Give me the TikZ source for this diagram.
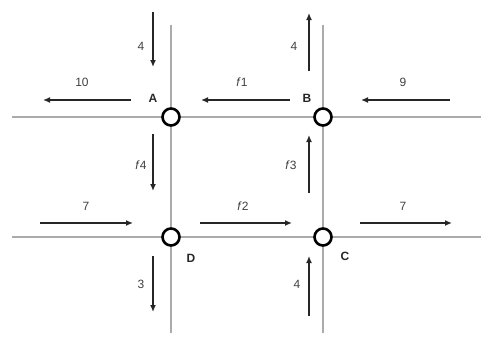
\documentclass[tikz,border=0pt]{standalone}
\usepackage{fontspec}
\setmainfont{Liberation Sans}
\usetikzlibrary{arrows.meta}
\begin{document}
\begin{tikzpicture}[x=1pt,y=-1pt,
  road/.style={draw=black!33,line width=1.8pt},
  flow/.style={draw=black!85,line width=2.2pt,-{Latex[length=7pt,width=6pt]}},
  junction/.style={circle,draw=black,fill=white,line width=2.6pt,minimum size=17pt,inner sep=0pt},
  lbl/.style={font=\fontsize{12}{13}\selectfont,text=black!75},
  jlabel/.style={font=\bfseries\fontsize{12}{13}\selectfont,text=black!85}]
\useasboundingbox (0,0) rectangle (481,341);
% roads
\draw[road] (12,117) -- (481,117);
\draw[road] (12,237) -- (481,237);
\draw[road] (171,25) -- (171,333);
\draw[road] (323,25) -- (323,333);
% junctions
\node[junction] (A) at (171,117) {};
\node[junction] (B) at (323,117) {};
\node[junction] (D) at (171,237) {};
\node[junction] (C) at (323,237) {};
\node[jlabel] (lA) at (153,98) {A};
\node[jlabel] (lB) at (307,98) {B};
\node[jlabel] (lD) at (191,258) {D};
\node[jlabel] (lC) at (345,256) {C};
% arrow end points
\coordinate (a1s) at (153,12);  \coordinate (a1e) at (153,67);
\coordinate (a2s) at (131,100); \coordinate (a2e) at (43,100);
\coordinate (a3s) at (290,100); \coordinate (a3e) at (201,100);
\coordinate (a4s) at (309,71);  \coordinate (a4e) at (309,13);
\coordinate (a5s) at (450,100); \coordinate (a5e) at (361,100);
\coordinate (a6s) at (153,134); \coordinate (a6e) at (153,191);
\coordinate (a7s) at (309,193); \coordinate (a7e) at (309,135);
\coordinate (a8s) at (40,223);  \coordinate (a8e) at (133,223);
\coordinate (a9s) at (200,223); \coordinate (a9e) at (292,223);
\coordinate (a10s) at (360,223); \coordinate (a10e) at (452,223);
\coordinate (a11s) at (153,256); \coordinate (a11e) at (153,312);
\coordinate (a12s) at (309,316); \coordinate (a12e) at (309,256);
\draw[flow] (a1s) -- (a1e);
\draw[flow] (a2s) -- (a2e);
\draw[flow] (a3s) -- (a3e);
\draw[flow] (a4s) -- (a4e);
\draw[flow] (a5s) -- (a5e);
\draw[flow] (a6s) -- (a6e);
\draw[flow] (a7s) -- (a7e);
\draw[flow] (a8s) -- (a8e);
\draw[flow] (a9s) -- (a9e);
\draw[flow] (a10s) -- (a10e);
\draw[flow] (a11s) -- (a11e);
\draw[flow] (a12s) -- (a12e);
% labels
\node[lbl] (t1) at (141,46) {4};
\node[lbl] (t2) at (82,82) {10};
\node[lbl] (t3) at (242,82) {\textit{f}1};
\node[lbl] (t4) at (294,46) {4};
\node[lbl] (t5) at (403,82) {9};
\node[lbl] (t6) at (141,165) {\textit{f}4};
\node[lbl] (t7) at (291,165) {\textit{f}3};
\node[lbl] (t8) at (86,206) {7};
\node[lbl] (t9) at (243,206) {\textit{f}2};
\node[lbl] (t10) at (403,206) {7};
\node[lbl] (t11) at (141,284) {3};
\node[lbl] (t12) at (297,284) {4};
\end{tikzpicture}
\end{document}
